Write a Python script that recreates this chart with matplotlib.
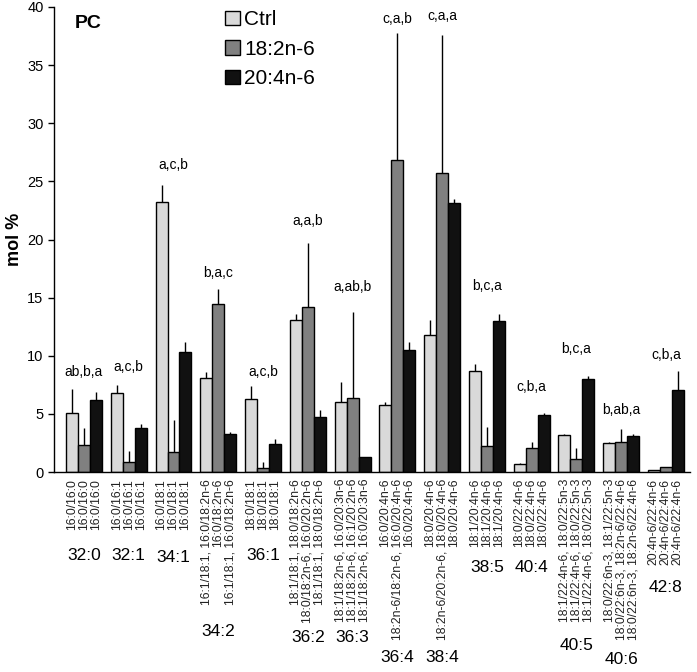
import numpy as np
import matplotlib
matplotlib.use("Agg")
import matplotlib.pyplot as plt
from matplotlib.patches import Patch
from matplotlib.transforms import blended_transform_factory

plt.rcParams['font.family'] = ['Liberation Sans', 'DejaVu Sans']

# ---------- DATA ----------
groups = ["32:0", "32:1", "34:1", "34:2", "36:1", "36:2", "36:3",
          "36:4", "38:4", "38:5", "40:4", "40:5", "40:6", "42:8"]
series = ["Ctrl", "18:2n-6", "20:4n-6"]

ctrl = [5.1, 6.8, 23.2, 8.05, 6.3, 13.05, 6.05, 5.75, 11.8, 8.7, 0.69, 3.19, 2.5, 0.15]
la = [2.3, 0.89, 1.75, 14.45, 0.37, 14.2, 6.4, 26.8, 25.7, 2.27, 2.07, 1.09, 2.58, 0.45]
aa = [6.2, 3.8, 10.3, 3.25, 2.4, 4.7, 1.32, 10.5, 23.1, 12.96, 4.9, 8.0, 3.1, 7.07]

ctrl_err = [2.0, 0.7, 1.5, 0.55, 1.06, 0.55, 1.7, 0.25, 1.3, 0.6, 0.11, 0.07, 0.1, 0.0]
la_err = [1.5, 0.9, 2.75, 1.25, 0.5, 5.5, 7.4, 11.0, 11.9, 1.6, 0.53, 1.0, 1.1, 0.0]
aa_err = [0.7, 0.3, 0.9, 0.22, 0.4, 0.6, 0.0, 0.65, 0.35, 0.64, 0.2, 0.28, 0.16, 1.58]

letters = ["ab,b,a", "a,c,b", "a,c,b", "b,a,c", "a,c,b", "a,a,b", "a,ab,b",
           "c,a,b", "c,a,a", "b,c,a", "c,b,a", "b,c,a", "b,ab,a", "c,b,a"]
letter_y = [8.6, 9.0, 26.4, 17.1, 8.6, 21.6, 15.9, 39.0, 39.2, 16.0, 7.3, 10.6, 5.3, 10.1]

species = [
    ["16:0/16:0", "16:0/16:0", "16:0/16:0"],
    ["16:0/16:1", "16:0/16:1", "16:0/16:1"],
    ["16:0/18:1", "16:0/18:1", "16:0/18:1"],
    ["16:1/18:1, 16:0/18:2n-6", "16:0/18:2n-6", "16:1/18:1, 16:0/18:2n-6"],
    ["18:0/18:1", "18:0/18:1", "18:0/18:1"],
    ["18:1/18:1, 18:0/18:2n-6", "18:0/18:2n-6, 16:0/20:2n-6", "18:1/18:1, 18:0/18:2n-6"],
    ["18:1/18:2n-6, 16:0/20:3n-6", "18:1/18:2n-6, 16:1/20:2n-6", "18:1/18:2n-6, 16:0/20:3n-6"],
    ["16:0/20:4n-6", "18:2n-6/18:2n-6, 16:0/20:4n-6", "16:0/20:4n-6"],
    ["18:0/20:4n-6", "18:2n-6/20:2n-6, 18:0/20:4n-6", "18:0/20:4n-6"],
    ["18:1/20:4n-6", "18:1/20:4n-6", "18:1/20:4n-6"],
    ["18:0/22:4n-6", "18:0/22:4n-6", "18:0/22:4n-6"],
    ["18:1/22:4n-6, 18:0/22:5n-3", "18:1/22:4n-6, 18:0/22:5n-3", "18:1/22:4n-6, 18:0/22:5n-3"],
    ["18:0/22:6n-3, 18:1/22:5n-3", "18:0/22:6n-3, 18:2n-6/22:4n-6", "18:0/22:6n-3, 18:2n-6/22:4n-6"],
    ["20:4n-6/22:4n-6", "20:4n-6/22:4n-6", "20:4n-6/22:4n-6"],
]
# --------------------------

W, H = 697, 672
colors = ["#d9d9d9", "#808080", "#111111"]
BAR_W = 0.268
# vertical position (pixels from top) of each group label
group_label_px = [556, 556, 557, 632, 556, 638, 638, 658, 658, 567, 567, 645, 660, 588]

fig = plt.figure(figsize=(W / 100, H / 100), dpi=100)
ax = fig.add_axes([54 / W, 1 - 472 / H, (690 - 54) / W, (472 - 7) / H])

x = np.arange(len(groups))
vals = [ctrl, la, aa]
errs = [ctrl_err, la_err, aa_err]
for k in range(3):
    pos = x + (k - 1) * BAR_W
    ax.bar(pos, vals[k], BAR_W, color=colors[k], edgecolor="black", linewidth=1.0, zorder=2)
    ax.errorbar(pos, vals[k], yerr=[np.zeros(len(groups)), errs[k]], fmt="none",
                ecolor="black", elinewidth=1.0, capsize=0, zorder=1)

ax.set_xlim(-0.67, 13.54)
ax.set_ylim(0, 40)
ax.set_yticks(np.arange(0, 41, 5))
ax.tick_params(axis="y", labelsize=10.5, direction="out", length=4, width=1)
ax.set_xticks([])
ax.spines["top"].set_visible(False)
ax.spines["right"].set_visible(False)
ax.spines["left"].set_linewidth(1.0)
ax.spines["bottom"].set_linewidth(1.0)
ax.set_ylabel("mol %", fontsize=13, fontweight="bold", labelpad=3)

# significance letters
for i, (t, yv) in enumerate(zip(letters, letter_y)):
    ax.text(i, yv, t, ha="center", va="center", fontsize=10)

# species labels under each bar
trans = blended_transform_factory(ax.transData, ax.transAxes)
for i in range(len(groups)):
    for k in range(3):
        ax.text(i + (k - 1) * BAR_W, -0.015, species[i][k], transform=trans,
                rotation=90, ha="center", va="top", fontsize=8.8, color="#222222")

# group labels
ftrans = blended_transform_factory(ax.transData, fig.transFigure)
for i, g in enumerate(groups):
    fig.text(i, 1 - group_label_px[i] / H, g, transform=ftrans,
             ha="center", va="center", fontsize=12.5)

fig.text(75 / W, 1 - 23 / H, "PC", fontsize=14, fontweight="bold", ha="left", va="center")

handles = [Patch(facecolor=c, edgecolor="black", linewidth=1.0) for c in colors]
fig.legend(handles, series, loc="upper left", bbox_to_anchor=(217 / W, 1 - 2 / H),
           frameon=False, fontsize=15, handlelength=0.7, handleheight=0.7,
           handletextpad=0.2, labelspacing=0.5, borderaxespad=0)

fig.savefig("out.png", dpi=100)
